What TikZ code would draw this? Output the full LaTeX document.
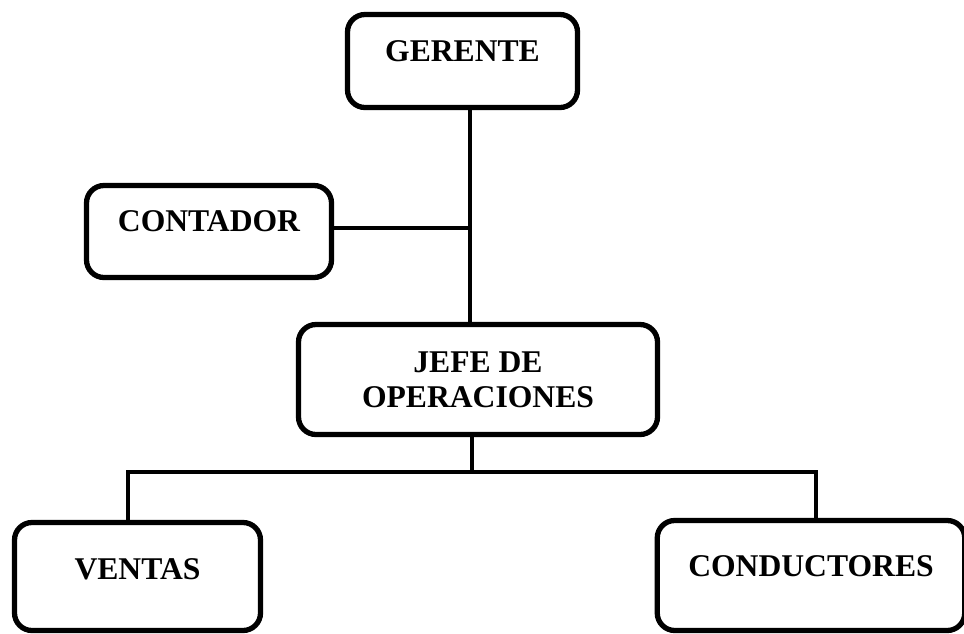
\documentclass[tikz,border=0pt]{standalone}
\usepackage{fontspec}
\setmainfont{Liberation Serif}
\begin{document}
\begin{tikzpicture}[
    post/.style={rectangle, draw, line width=3pt, rounded corners=0.35cm, inner sep=0pt, anchor=base, font=\bfseries\fontsize{18}{20}\selectfont},
    wire/.style={line width=2.6pt}
]
    \useasboundingbox (0,0) rectangle (19.28,-12.66);
    \node[post, minimum width=4.6cm, text height=0.93cm, text depth=0.93cm] (gerente) at (9.25,-1.22) {GERENTE};
    \node[post, minimum width=4.9cm, text height=0.92cm, text depth=0.92cm] (contador) at (4.18,-4.63) {CONTADOR};
    \node[post, anchor=center, align=center, minimum width=7.18cm, minimum height=2.2cm] (jefe) at (9.56,-7.59) {JEFE DE\\OPERACIONES};
    \node[post, minimum width=4.92cm, text height=1.13cm, text depth=1.03cm] (ventas) at (2.75,-11.58) {VENTAS};
    \node[post, minimum width=6.15cm, text height=1.11cm, text depth=1.09cm] (conductores) at (16.22,-11.52) {CONDUCTORES};

    \coordinate (trunk) at (9.4,-4.56);
    \coordinate (bus) at (9.44,-9.44);
    \coordinate (ventas bus) at (2.56,-9.44);
    \coordinate (conductores bus) at (16.32,-9.44);
    \draw[wire] (gerente.south -| trunk) -- (jefe.north -| trunk);
    \draw[wire, line width=2pt] (contador.east |- trunk) -- (trunk);
    \draw[wire] (jefe.south -| bus) -- (bus);
    \draw[wire] (ventas.north -| ventas bus) -- (ventas bus) -- (conductores bus) -- (conductores.north -| conductores bus);
\end{tikzpicture}
\end{document}
